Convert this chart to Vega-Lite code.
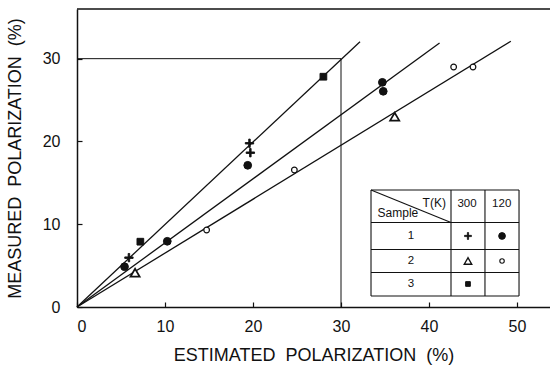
{
  "$schema": "https://vega.github.io/schema/vega-lite/v6.json",
  "width": 473,
  "height": 298,
  "autosize": {"type": "none"},
  "padding": {"left": 77, "top": 9, "right": 0, "bottom": 61},
  "background": "white",
  "config": {
    "view": {"stroke": null},
    "font": "Liberation Sans",
    "axis": {
      "grid": false,
      "domainColor": "#111",
      "domainWidth": 1.5,
      "tickColor": "#111",
      "tickWidth": 1.2,
      "tickSize": -5,
      "labelColor": "#111",
      "labelFont": "Liberation Sans",
      "labelFontSize": 16,
      "titleColor": "#111",
      "titleFont": "Liberation Sans",
      "titleFontSize": 18,
      "titleFontWeight": "normal"
    }
  },
  "datasets": {
    "points": [
      {"estimated": 28.0, "measured": 27.82, "kind": "S3-300K"},
      {"estimated": 7.2, "measured": 7.89, "kind": "S3-300K"},
      {"estimated": 19.6, "measured": 19.78, "kind": "S1-300K"},
      {"estimated": 19.7, "measured": 18.64, "kind": "S1-300K"},
      {"estimated": 5.9, "measured": 5.96, "kind": "S1-300K"},
      {"estimated": 19.4, "measured": 17.12, "kind": "S1-120K"},
      {"estimated": 5.4, "measured": 4.87, "kind": "S1-120K"},
      {"estimated": 10.26, "measured": 7.94, "kind": "S1-120K"},
      {"estimated": 34.7, "measured": 27.14, "kind": "S1-120K"},
      {"estimated": 34.8, "measured": 26.06, "kind": "S1-120K"},
      {"estimated": 6.6, "measured": 4.14, "kind": "S2-300K"},
      {"estimated": 36.1, "measured": 22.99, "kind": "S2-300K"},
      {"estimated": 14.73, "measured": 9.3, "kind": "S2-120K"},
      {"estimated": 24.7, "measured": 16.55, "kind": "S2-120K"},
      {"estimated": 42.8, "measured": 28.99, "kind": "S2-120K"},
      {"estimated": 45.0, "measured": 28.99, "kind": "S2-120K"}
    ],
    "fits": [
      {"x": 0, "y": 0, "x2": 32.16, "y2": 32.05},
      {"x": 0, "y": 0, "x2": 41.2, "y2": 31.9},
      {"x": 0, "y": 0, "x2": 49.3, "y2": 32.1}
    ],
    "guides": [
      {"x": 0, "y": 30, "x2": 30, "y2": 30},
      {"x": 30, "y": 0, "x2": 30, "y2": 30}
    ],
    "tableLines": [
      {"x": 33.41, "y": 14.13, "x2": 50.23, "y2": 14.13},
      {"x": 33.41, "y": 10.21, "x2": 50.23, "y2": 10.21},
      {"x": 33.41, "y": 6.95, "x2": 50.23, "y2": 6.95},
      {"x": 33.41, "y": 4.17, "x2": 50.23, "y2": 4.17},
      {"x": 33.41, "y": 1.33, "x2": 50.23, "y2": 1.33},
      {"x": 33.41, "y": 1.33, "x2": 33.41, "y2": 14.13},
      {"x": 42.5, "y": 1.33, "x2": 42.5, "y2": 14.13},
      {"x": 46.36, "y": 1.33, "x2": 46.36, "y2": 14.13},
      {"x": 50.23, "y": 1.33, "x2": 50.23, "y2": 14.13},
      {"x": 33.41, "y": 14.13, "x2": 42.5, "y2": 10.21}
    ],
    "tableText": [
      {"x": 40.6, "y": 12.6, "text": "T(K)", "size": 12},
      {"x": 36.47, "y": 11.32, "text": "Sample", "size": 12},
      {"x": 44.32, "y": 12.44, "text": "300", "size": 11.5},
      {"x": 48.26, "y": 12.44, "text": "120", "size": 11.5},
      {"x": 37.95, "y": 8.58, "text": "1", "size": 11.5},
      {"x": 37.95, "y": 5.56, "text": "2", "size": 11.5},
      {"x": 37.95, "y": 2.78, "text": "3", "size": 11.5}
    ],
    "tableSymbols": [
      {"x": 44.43, "y": 8.58, "kind": "S1-300K"},
      {"x": 48.3, "y": 8.58, "kind": "S1-120K"},
      {"x": 44.43, "y": 5.56, "kind": "S2-300K"},
      {"x": 48.3, "y": 5.56, "kind": "S2-120K"},
      {"x": 44.43, "y": 2.78, "kind": "S3-300K"}
    ]
  },
  "layer": [
    {
      "data": {"name": "fits"},
      "mark": {"type": "rule", "color": "#111", "strokeWidth": 1.3},
      "encoding": {
        "x": {
          "field": "x", "type": "quantitative",
          "scale": {"domain": [0, 53.75], "nice": false, "zero": true},
          "axis": {
            "values": [0, 10, 20, 30, 40, 50],
            "labelPadding": 16,
            "title": "ESTIMATED\u00a0\u00a0POLARIZATION\u00a0\u00a0(%)",
            "titlePadding": 12
          }
        },
        "y": {
          "field": "y", "type": "quantitative",
          "scale": {"domain": [0, 36], "nice": false, "zero": true},
          "axis": {
            "values": [0, 10, 20, 30],
            "labelPadding": 22,
            "title": "MEASURED\u00a0\u00a0POLARIZATION\u00a0\u00a0(%)",
            "titlePadding": 18
          }
        },
        "x2": {"field": "x2"},
        "y2": {"field": "y2"}
      }
    },
    {
      "data": {"name": "guides"},
      "mark": {"type": "rule", "color": "#111", "strokeWidth": 1},
      "encoding": {
        "x": {"field": "x", "type": "quantitative"},
        "y": {"field": "y", "type": "quantitative"},
        "x2": {"field": "x2"},
        "y2": {"field": "y2"}
      }
    },
    {
      "data": {"values": [{}]},
      "mark": {"type": "rule", "color": "#111", "strokeWidth": 1.5},
      "encoding": {"y": {"datum": 36, "type": "quantitative"}}
    },
    {
      "data": {"name": "tableLines"},
      "mark": {"type": "rule", "color": "#111", "strokeWidth": 1.1},
      "encoding": {
        "x": {"field": "x", "type": "quantitative"},
        "y": {"field": "y", "type": "quantitative"},
        "x2": {"field": "x2"},
        "y2": {"field": "y2"}
      }
    },
    {
      "data": {"name": "tableText"},
      "mark": {"type": "text", "color": "#111", "font": "Liberation Sans", "baseline": "middle", "align": "center"},
      "encoding": {
        "x": {"field": "x", "type": "quantitative"},
        "y": {"field": "y", "type": "quantitative"},
        "text": {"field": "text"},
        "size": {"field": "size", "type": "quantitative", "scale": null}
      }
    },
    {
      "data": {"name": "points"},
      "mark": {"type": "point", "filled": true, "stroke": "#111", "opacity": 1},
      "encoding": {
        "x": {"field": "estimated", "type": "quantitative"},
        "y": {"field": "measured", "type": "quantitative"},
        "shape": {"field": "kind", "type": "nominal", "legend": null,
          "scale": {"domain": ["S1-300K", "S1-120K", "S2-300K", "S2-120K", "S3-300K"],
                    "range": ["M-1,-0.18H1V0.18H-1Z M-0.18,-1H0.18V1H-0.18Z", "circle", "triangle-up", "circle", "square"]}},
        "fill": {"field": "kind", "type": "nominal", "legend": null,
          "scale": {"domain": ["S1-300K", "S1-120K", "S2-300K", "S2-120K", "S3-300K"],
                    "range": ["#111", "#111", "#fff", "#fff", "#111"]}},
        "strokeWidth": {"field": "kind", "type": "nominal", "legend": null,
          "scale": {"type": "ordinal", "domain": ["S1-300K", "S1-120K", "S2-300K", "S2-120K", "S3-300K"],
                    "range": [0.9, 1, 1.7, 1.2, 1]}},
        "size": {"field": "kind", "type": "nominal", "legend": null,
          "scale": {"type": "ordinal", "domain": ["S1-300K", "S1-120K", "S2-300K", "S2-120K", "S3-300K"],
                    "range": [70, 60, 85, 32, 45]}}
      }
    },
    {
      "data": {"name": "tableSymbols"},
      "mark": {"type": "point", "filled": true, "stroke": "#111", "opacity": 1},
      "encoding": {
        "x": {"field": "x", "type": "quantitative"},
        "y": {"field": "y", "type": "quantitative"},
        "shape": {"field": "kind", "type": "nominal", "legend": null},
        "fill": {"field": "kind", "type": "nominal", "legend": null},
        "strokeWidth": {"field": "kind", "type": "nominal", "legend": null,
          "scale": {"type": "ordinal", "domain": ["S1-300K", "S1-120K", "S2-300K", "S2-120K", "S3-300K"],
                    "range": [0.8, 1, 1.4, 1.1, 1]}},
        "size": {"field": "kind", "type": "nominal", "legend": null,
          "scale": {"type": "ordinal", "domain": ["S1-300K", "S1-120K", "S2-300K", "S2-120K", "S3-300K"],
                    "range": [48, 45, 55, 20, 22]}}
      }
    }
  ],
  "resolve": {"scale": {"size": "independent", "strokeWidth": "independent"}}
}
